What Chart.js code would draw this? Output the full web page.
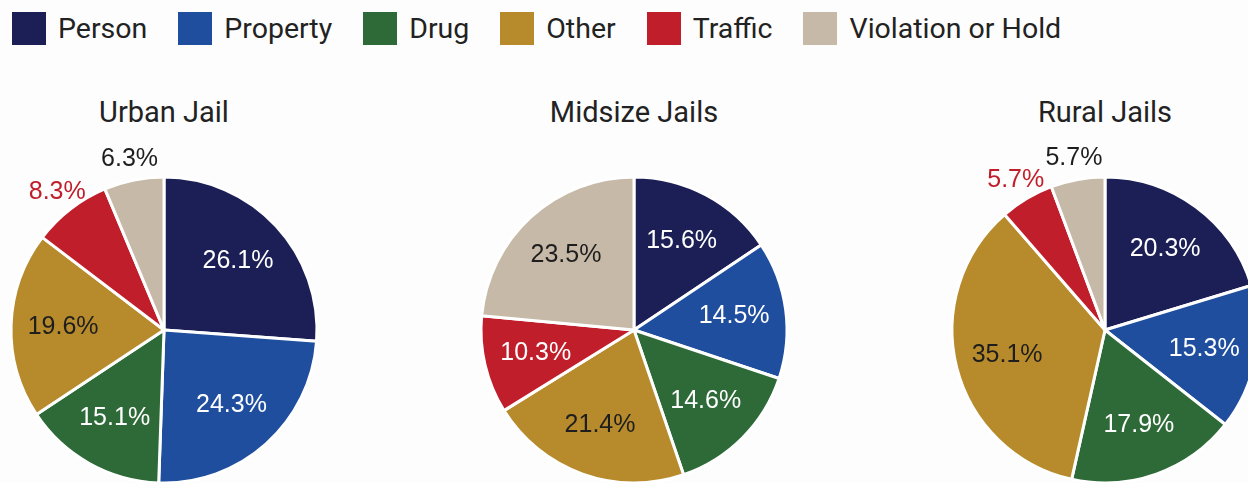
<!DOCTYPE html>
<html lang="en">
<head>
<meta charset="UTF-8">
<title>Jail Population by Offense Type</title>
<script src="https://cdn.jsdelivr.net/npm/chart.js"></script>
<style>
    html, body { margin: 0; padding: 0; background: #fdfdfd; }
    body { width: 1248px; height: 483px; position: relative; overflow: hidden; font-family: Roboto, sans-serif; color: #222; }
    #legend { position: absolute; left: 12px; top: 12px; display: flex; align-items: center; }
    .item { display: flex; align-items: center; margin-right: 31px; font-size: 28.5px; }
    .swatch { width: 34px; height: 33px; margin-right: 12px; }
    .title { position: absolute; width: 300px; text-align: center; font-size: 29px; top: 95px; }
    .wrap { position: absolute; top: 120px; width: 420px; height: 420px; }
</style>
</head>
<body>
<div id="legend"></div>

<script>
// data
const categories = ['Person', 'Property', 'Drug', 'Other', 'Traffic', 'Violation or Hold'];
const jailNames = ['Urban Jail', 'Midsize Jails', 'Rural Jails'];
const urbanValues = [26.1, 24.3, 15.1, 19.6, 8.3, 6.3];
const midsizeValues = [15.6, 14.5, 14.6, 21.4, 10.3, 23.5];
const ruralValues = [20.3, 15.3, 17.9, 35.1, 5.7, 5.7];

const colors = ['#1c1f55', '#1f4e9f', '#2d6a37', '#b78b2c', '#c01e2a', '#c6b9a7'];
const insideText = ['#ffffff', '#ffffff', '#ffffff', '#1e1e1e', '#ffffff', '#1e1e1e'];
const outsideText = ['#1c1f55', '#1f4e9f', '#2d6a37', '#b78b2c', '#c01e2a', '#1e1e1e'];
const centers = [164, 634, 1105];

// legend
const legend = document.getElementById('legend');
categories.forEach((c, i) => {
    const item = document.createElement('div');
    item.className = 'item';
    item.innerHTML = '<div class="swatch" style="background:' + colors[i] + '"></div><span>' + c + '</span>';
    legend.appendChild(item);
});

const labelPlugin = {
    id: 'sliceLabels',
    afterDatasetsDraw(chart) {
        const ctx = chart.ctx;
        const meta = chart.getDatasetMeta(0);
        const values = chart.data.datasets[0].data;
        ctx.save();
        ctx.font = '25px "Liberation Sans", Arial, sans-serif';
        ctx.textAlign = 'center';
        ctx.textBaseline = 'middle';
        meta.data.forEach((arc, i) => {
            const p = arc.getProps(['x', 'y', 'startAngle', 'endAngle', 'outerRadius'], true);
            const mid = (p.startAngle + p.endAngle) / 2;
            const outside = values[i] < 9;
            const r = outside ? p.outerRadius * 1.14 : p.outerRadius * 0.66;
            ctx.fillStyle = outside ? outsideText[i] : insideText[i];
            ctx.fillText(values[i].toFixed(1) + '%', p.x + Math.cos(mid) * r, p.y + Math.sin(mid) * r);
        });
        ctx.restore();
    }
};

function makePie(name, values, cx) {
    const title = document.createElement('div');
    title.className = 'title';
    title.style.left = (cx - 150) + 'px';
    title.textContent = name;
    document.body.appendChild(title);

    const wrap = document.createElement('div');
    wrap.className = 'wrap';
    wrap.style.left = (cx - 210) + 'px';
    const canvas = document.createElement('canvas');
    canvas.width = 420;
    canvas.height = 420;
    wrap.appendChild(canvas);
    document.body.appendChild(wrap);

    new Chart(canvas.getContext('2d'), {
        type: 'pie',
        data: {
            labels: categories,
            datasets: [{
                data: values,
                backgroundColor: colors,
                borderColor: '#ffffff',
                borderWidth: 3
            }]
        },
        options: {
            responsive: false,
            animation: false,
            radius: 153,
            layout: { padding: 0 },
            plugins: {
                legend: { display: false },
                tooltip: { enabled: false }
            }
        },
        plugins: [labelPlugin]
    });
}

makePie(jailNames[0], urbanValues, centers[0]);
makePie(jailNames[1], midsizeValues, centers[1]);
makePie(jailNames[2], ruralValues, centers[2]);
</script>
</body>
</html>
